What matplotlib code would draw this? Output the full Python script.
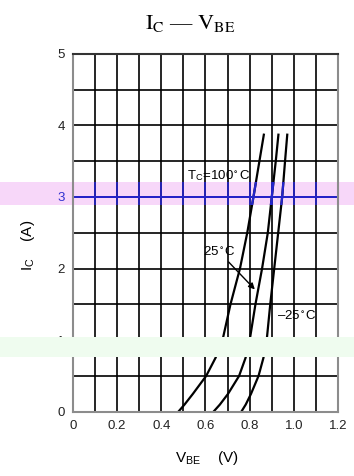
import matplotlib
matplotlib.use("Agg")
import matplotlib.pyplot as plt
from matplotlib.patches import Rectangle
from matplotlib.transforms import Bbox, TransformedBbox

plt.rcParams['font.family'] = ['Liberation Sans', 'DejaVu Sans']
plt.rcParams['mathtext.fontset'] = 'stix'

# data (I_C in A, V_BE in V)
ic = [0, 0.1, 0.25, 0.5, 0.75, 1.0, 1.5, 2.0, 2.5, 3.0, 3.5, 3.87]
vbe_100 = [0.477, 0.505, 0.543, 0.603, 0.645, 0.677, 0.713, 0.756, 0.789, 0.817, 0.844, 0.864]
vbe_25 = [0.636, 0.665, 0.702, 0.752, 0.781, 0.800, 0.826, 0.856, 0.882, 0.900, 0.918, 0.930]
vbe_m25 = [0.762, 0.782, 0.806, 0.840, 0.862, 0.877, 0.893, 0.911, 0.929, 0.947, 0.960, 0.970]

x_ticks = [0, 0.2, 0.4, 0.6, 0.8, 1.0, 1.2]
x_labels = ['0', '0.2', '0.4', '0.6', '0.8', '1.0', '1.2']
y_ticks = [0, 1, 2, 3, 4, 5]
x_grid = [0.1 * i for i in range(1, 12)]
y_grid = [0.5 * i for i in range(1, 10)]

fig = plt.figure(figsize=(3.54, 4.76), dpi=100)
ax = fig.add_axes([0.206, 0.135, 0.749, 0.752])
ax.set_facecolor('none')

# pink highlight band behind everything
pink_y0, pink_h = 1 - 205 / 476, 23 / 476
fig.patches.append(Rectangle((0, pink_y0), 1, pink_h, transform=fig.transFigure,
                             facecolor='#f7d7f9', edgecolor='none', zorder=-5))


def draw(color, clip=None):
    arts = []
    arts.append(ax.vlines(x_grid, 0, 5, colors=color, lw=1.2))
    arts.append(ax.hlines(y_grid, 0, 1.2, colors=color, lw=1.2))
    for v in (vbe_100, vbe_25, vbe_m25):
        arts += ax.plot(v, ic, color=color, lw=1.6)
    if clip is not None:
        for a in arts:
            a.set_clip_box(clip)
    return arts


draw('black')
band_box = TransformedBbox(Bbox.from_bounds(0, pink_y0, 1, pink_h), fig.transFigure)
draw('#2424cc', clip=band_box)
ax.hlines([3], 0, 1.2, colors='#2424cc', lw=1.2)

ax.set_xlim(0, 1.2)
ax.set_ylim(0, 5)
ax.set_xticks(x_ticks)
ax.set_xticklabels(x_labels)
ax.set_yticks(y_ticks)
ax.tick_params(length=0, labelsize=9.5, pad=6, colors='#222222')
for lab in ax.get_yticklabels():
    if lab.get_text() == '3':
        lab.set_color('#3030d0')
for s in ax.spines.values():
    s.set_color('#8c8c8c')
    s.set_linewidth(1.5)
ax.spines['top'].set_color('#333333')

# annotations
ax.text(0.516, 3.30, r'T$_\mathregular{C}$=100$^\circ$C', fontsize=9.5, va='center', ha='left')
ax.text(0.59, 2.24, r'25$^\circ$C', fontsize=9.5, va='center', ha='left')
ax.text(0.922, 1.35, '–25' + r'$^\circ$C', fontsize=9.5, va='center', ha='left')
ax.annotate('', xy=(0.832, 1.68), xytext=(0.696, 2.12),
            arrowprops=dict(arrowstyle='-|>', color='black', lw=1.0, mutation_scale=9))

fig.text(190 / 354, 1 - 24 / 476, r'$\mathrm{I_C}$ — $\mathrm{V_{BE}}$', fontsize=16,
         ha='center', va='center', family=['Liberation Serif', 'DejaVu Serif'])
fig.text(28 / 354, 1 - 245 / 476, r'I$_\mathregular{C}$    (A)', fontsize=11,
         rotation=90, ha='center', va='center')
fig.text(207 / 354, 1 - 458 / 476, r'V$_\mathregular{BE}$    (V)', fontsize=11,
         ha='center', va='center')

# pale green band on top
fig.patches.append(Rectangle((0, 1 - 357 / 476), 1, 20 / 476, transform=fig.transFigure,
                             facecolor='#effcef', edgecolor='none', zorder=10))

fig.savefig('out.png', dpi=100)
